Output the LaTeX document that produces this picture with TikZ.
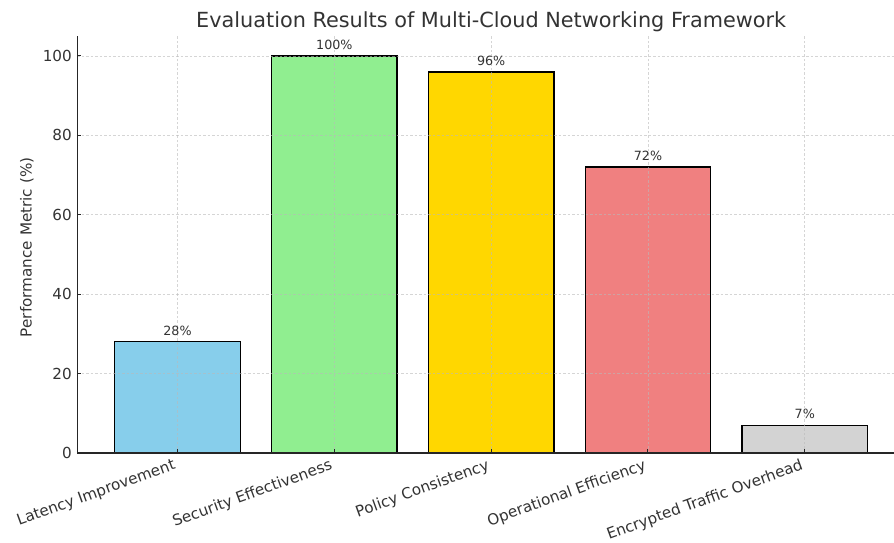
\documentclass[tikz,border=0pt]{standalone}
\usepackage{fontspec}
\setmainfont{DejaVu Sans}
\definecolor{skyblue}{HTML}{87CEEB}
\definecolor{lightgreen}{HTML}{90EE90}
\definecolor{gold}{HTML}{FFD700}
\definecolor{lightcoral}{HTML}{F08080}
\definecolor{lightgrey}{HTML}{D3D3D3}
\definecolor{textgray}{HTML}{333333}
\definecolor{axisgray}{HTML}{262626}
\begin{document}
\begin{tikzpicture}[x=156.8pt,y=3.97pt,
  bar/.style={draw=black,line width=1.3pt},
  gridline/.style={draw=gray!55,line width=0.6pt,dash pattern=on 2.5pt off 2pt,opacity=0.6},
  spine/.style={draw=axisgray,line width=1.3pt},
  tickmark/.style={draw=axisgray,line width=1pt},
  valuelabel/.style={anchor=south,inner sep=0pt,text=textgray,font=\fontsize{12.7}{15}\selectfont},
  ticklabel/.style={inner sep=0pt,text=textgray,font=\fontsize{15.2}{18}\selectfont},
  catlabel/.style={ticklabel,anchor=north east,rotate=20}]
\useasboundingbox (-1.132,-22.42) rectangle (4.569,114.1);
% bars
\draw [bar,fill=skyblue] (-0.4,0) rectangle (0.4,28);
\draw [bar,fill=lightgreen] (0.6,0) rectangle (1.4,100);
\draw [bar,fill=gold] (1.6,0) rectangle (2.4,96);
\draw [bar,fill=lightcoral] (2.6,0) rectangle (3.4,72);
\draw [bar,fill=lightgrey] (3.6,0) rectangle (4.4,7);
% grid
\draw [gridline] (0,0) -- (0,105);
\draw [gridline] (1,0) -- (1,105);
\draw [gridline] (2,0) -- (2,105);
\draw [gridline] (3,0) -- (3,105);
\draw [gridline] (4,0) -- (4,105);
\draw [gridline] (-0.64,20) -- (4.569,20);
\draw [gridline] (-0.64,40) -- (4.569,40);
\draw [gridline] (-0.64,60) -- (4.569,60);
\draw [gridline] (-0.64,80) -- (4.569,80);
\draw [gridline] (-0.64,100) -- (4.569,100);
% axes
\coordinate (origin) at (-0.64,0);
\coordinate (ytop) at (-0.64,105);
\coordinate (xend) at (4.569,0);
\draw [spine] (ytop) -- (origin) -- (xend);
% ticks
\draw [tickmark] (0,0) -- (0,1);
\draw [tickmark] (1,0) -- (1,1);
\draw [tickmark] (2,0) -- (2,1);
\draw [tickmark] (3,0) -- (3,1);
\draw [tickmark] (4,0) -- (4,1);
\draw [tickmark] (-0.64,0) -- (-0.615,0);
\draw [tickmark] (-0.64,20) -- (-0.615,20);
\draw [tickmark] (-0.64,40) -- (-0.615,40);
\draw [tickmark] (-0.64,60) -- (-0.615,60);
\draw [tickmark] (-0.64,80) -- (-0.615,80);
\draw [tickmark] (-0.64,100) -- (-0.615,100);
% value labels
\node [valuelabel] (v28) at (0,29.6) {28\%};
\node [valuelabel] (v100) at (1,101.6) {100\%};
\node [valuelabel] (v96) at (2,97.6) {96\%};
\node [valuelabel] (v72) at (3,73.6) {72\%};
\node [valuelabel] (v7) at (4,8.6) {7\%};
% y tick labels
\node [ticklabel,anchor=east] (y0) at (-0.673,0) {0};
\node [ticklabel,anchor=east] (y20) at (-0.673,20) {20};
\node [ticklabel,anchor=east] (y40) at (-0.673,40) {40};
\node [ticklabel,anchor=east] (y60) at (-0.673,60) {60};
\node [ticklabel,anchor=east] (y80) at (-0.673,80) {80};
\node [ticklabel,anchor=east] (y100) at (-0.673,100) {100};
% category labels
\node [catlabel] (latency) at (-0.032,-1.26) {Latency Improvement};
\node [catlabel] (security) at (0.968,-1.26) {Security Effectiveness};
\node [catlabel] (policy) at (1.968,-1.26) {Policy Consistency};
\node [catlabel] (operational) at (2.968,-1.26) {Operational Efficiency};
\node [catlabel] (encrypted) at (3.968,-1.26) {Encrypted Traffic Overhead};
% axis label and title
\node [ticklabel,rotate=90] (ylabel) at (-0.96,51.8) {Performance Metric (\%)};
\node [text=textgray,font=\fontsize{20.8}{25}\selectfont] (title) at (2,108.6) {Evaluation Results of Multi-Cloud Networking Framework};
\end{tikzpicture}
\end{document}
